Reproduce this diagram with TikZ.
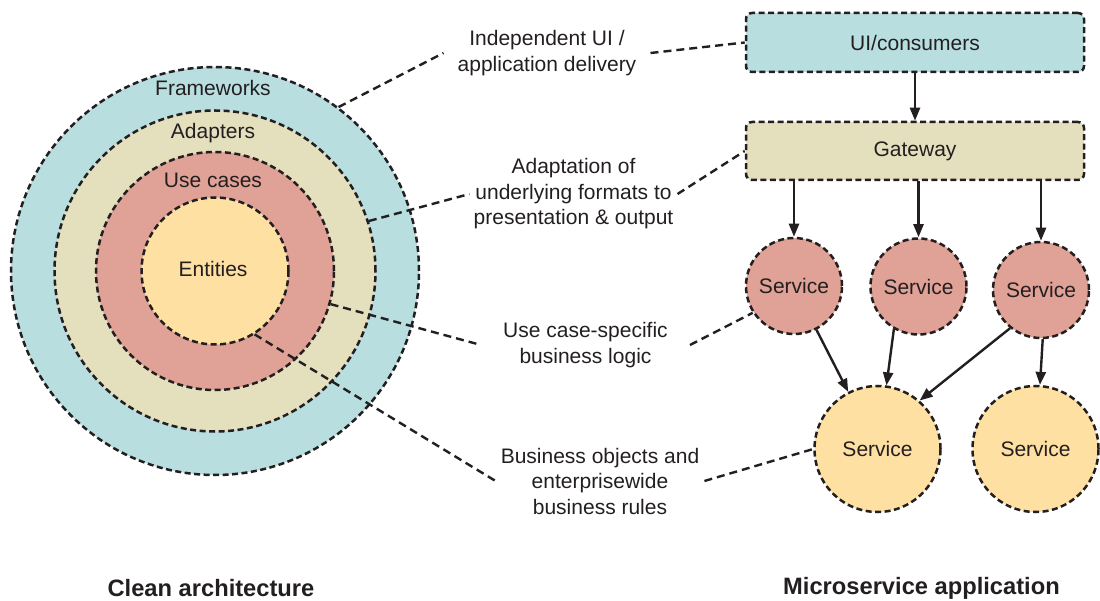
\documentclass[tikz,border=0pt]{standalone}
\usepackage{fontspec}
\setmainfont{Liberation Sans}
\usetikzlibrary{arrows.meta}
\definecolor{ink}{HTML}{231F20}
\definecolor{teal}{HTML}{B8DEE0}
\definecolor{beige}{HTML}{E4DFBD}
\definecolor{salmon}{HTML}{E0A196}
\definecolor{sand}{HTML}{FEE0A2}
\tikzset{
  ring/.style={circle, draw=ink, line width=2.5pt, dash pattern=on 6pt off 3.5pt, inner sep=0pt},
  boxnode/.style={rectangle, rounded corners=6pt, draw=ink, line width=2.5pt, dash pattern=on 6pt off 3.5pt, minimum width=338pt, text=ink, font=\fontsize{21}{26}\selectfont},
  svc/.style={ring, text=ink, font=\fontsize{21}{26}\selectfont},
  lbl/.style={text=ink, font=\fontsize{21}{26}\selectfont, inner sep=0pt},
  note/.style={text=ink, font=\fontsize{21}{25.5}\selectfont, align=center, inner ysep=2pt},
  leader/.style={draw=ink, line width=2.4pt, dash pattern=on 8pt off 5pt},
  arr/.style={draw=ink, line width=2.4pt, -{Triangle[length=13pt,width=10pt]}},
  title/.style={text=ink, font=\fontsize{23.7}{28}\selectfont\bfseries, inner sep=0pt}
}
\begin{document}
\begin{tikzpicture}[x=1pt,y=-1pt]
\useasboundingbox (0,0) rectangle (1100,601);
% clean architecture rings
\node[ring, fill=teal, minimum size=408pt] (fw) at (215,271) {};
\node[ring, fill=beige, minimum size=321pt] (ad) at (215,271) {};
\node[ring, fill=salmon, minimum size=238pt] (uc) at (215,271) {};
\node[ring, fill=sand, minimum size=147pt] (en) at (215,271) {};
\node[lbl] (lfw) at (213,88) {Frameworks};
\node[lbl] (lad) at (213,133) {Adapters};
\node[lbl] (luc) at (213,180) {Use cases};
\node[lbl] (len) at (213,269) {Entities};
% microservice side
\node[boxnode, fill=teal, minimum height=59pt] (ui) at (915,42.5) {UI/consumers};
\node[boxnode, fill=beige, minimum height=58pt] (gw) at (915,151) {Gateway};
\node[svc, fill=salmon, minimum size=96pt] (s1) at (794,286) {Service};
\node[svc, fill=salmon, minimum size=96pt] (s2) at (918.5,286.5) {Service};
\node[svc, fill=salmon, minimum size=96pt] (s3) at (1041,290) {Service};
\node[svc, fill=sand, minimum size=126pt] (s4) at (877.5,449) {Service};
\node[svc, fill=sand, minimum size=126pt] (s5) at (1035.5,449) {Service};
% arrows
\draw[arr] (ui.south) -- (gw.north);
\draw[arr] (s1.north |- gw.south) -- (s1.north);
\draw[arr] (s2.north |- gw.south) -- (s2.north);
\draw[arr] (s3.north |- gw.south) -- (s3.north);
\draw[arr] (s1) -- (s4);
\draw[arr] (s2.240) -- (s4.82);
\draw[arr] (s3.231) -- (s4.49);
\draw[arr] (s3.-88) -- (s5.86);
% notes
\node[note, inner xsep=14pt] (t1) at (547,53) {Independent UI /\\application delivery};
\node[note, inner xsep=4pt] (t2) at (573.5,194) {Adaptation of\\underlying formats to\\presentation \& output};
\node[note, inner xsep=22pt] (t3) at (585.5,345) {Use case-specific\\business logic};
\node[note, inner xsep=5pt] (t4) at (600,481) {Business objects and\\enterprisewide\\business rules};
% leaders
\draw[leader] (fw.53.5) -- (t1.west);
\draw[leader] (t1.east) -- (ui.west);
\draw[leader] (ad.18.7) -- (t2.west);
\draw[leader] (t2.east) -- (gw.west);
\draw[leader] (uc.-16.7) -- (t3.west);
\draw[leader] (t3.east) -- (s1.213);
\draw[leader] (en.-58) -- (t4.west);
\draw[leader] (t4.east) -- (s4.west);
% titles
\node[title] (c1) at (211,588) {Clean architecture};
\node[title] (c2) at (921.5,588) {Microservice application};
\end{tikzpicture}
\end{document}
